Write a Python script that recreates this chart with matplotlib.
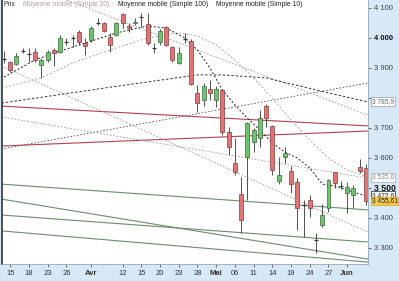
import matplotlib
matplotlib.use('Agg')
import matplotlib.pyplot as plt

# daily candles, 12 Mar -> 4 Jun (index 0 = 12 Mar)
opens = [3930, 3919, 3912, 3954, 3946, 3952, 3909, 3926, 3959, 3952,
         3987, 3997, 4019, 3982, 3992, 4048, 4049, 4002, 4009, 4079,
         4039, 4050, 4069, 4046, 3967, 3986, 4036, 3969, 3916, 3995,
         3989, 3816, 3792, 3829, 3792, 3826, 3686, 3582, 3479, 3602,
         3652, 3666, 3772, 3706, 3522, 3602, 3556, 3519, 3444, 3459,
         3327, 3376, 3432, 3552, 3507, 3482, 3476, 3569, 3566]
highs = [3956, 3922, 3949, 3966, 3966, 3966, 3932, 3959, 3966, 4009,
         3999, 4009, 4026, 3999, 4039, 4066, 4052, 4016, 4052, 4082,
         4049, 4066, 4082, 4082, 3982, 4029, 4039, 3972, 3969, 4016,
         3996, 3842, 3849, 3859, 3839, 3828, 3702, 3665, 3536, 3719,
         3699, 3759, 3779, 3709, 3602, 3636, 3572, 3532, 3459, 3476,
         3349, 3446, 3529, 3553, 3522, 3519, 3509, 3596, 3579]
lows = [3915, 3886, 3909, 3949, 3919, 3919, 3866, 3919, 3906, 3949,
        3976, 3969, 3976, 3942, 3986, 4042, 4019, 3952, 4006, 4032,
        4019, 4042, 4036, 3976, 3949, 3976, 3972, 3919, 3914, 3982,
        3842, 3752, 3772, 3792, 3769, 3676, 3609, 3542, 3349, 3459,
        3619, 3636, 3702, 3542, 3512, 3582, 3482, 3359, 3336, 3402,
        3282, 3369, 3419, 3499, 3496, 3416, 3432, 3549, 3442]
closes = [3927, 3892, 3939, 3957, 3944, 3926, 3926, 3952, 3949, 3999,
          3985, 3999, 3986, 3972, 4032, 4050, 4022, 3976, 4049, 4049,
          4032, 4054, 4070, 3982, 3964, 4022, 3976, 3926, 3949, 3997,
          3846, 3782, 3839, 3816, 3829, 3686, 3636, 3552, 3392, 3716,
          3692, 3732, 3732, 3559, 3542, 3616, 3512, 3432, 3441, 3432,
          3324, 3409, 3526, 3516, 3505, 3502, 3499, 3556, 3455.61]

tick_pos = [1, 4, 7, 10, 14, 19, 22, 25, 28, 31, 34, 37, 40, 43, 46, 49, 52, 55]
tick_labels = ['15', '18', '23', '26', 'Avr', '12', '15', '20', '23', '28',
               'Mai', '06', '11', '14', '19', '24', '27', 'Jun']
month_labels = ['Avr', 'Mai', 'Jun']

# moving averages
ma10_x = [0, 5, 8, 13, 18, 23, 26, 29, 31, 33, 35, 37, 39, 41, 43, 45, 47, 49, 51, 53, 55, 57, 58.3]
ma10_y = [3869, 3926, 3949, 3982, 4016, 4039, 4032, 3999, 3959, 3899, 3826, 3776, 3732,
          3692, 3649, 3619, 3599, 3566, 3512, 3506, 3492, 3479, 3472.6]
ma20_x = [-0.4, 6, 11, 17, 23, 28, 31, 34, 37, 40, 43, 46, 49, 52, 55, 58.3]
ma20_y = [3832, 3866, 3916, 3959, 3999, 4016, 4006, 3976, 3926, 3866, 3799, 3726,
          3659, 3599, 3559, 3535.6]
ma100_x = [-0.4, 16, 31, 35, 42, 52, 58.3]
ma100_y = [3782, 3832, 3876, 3876, 3866, 3816, 3785.9]

# trend lines: (x0, y0, x1, y1)
red_lines = [(-0.4, 3772, 58.3, 3706), (-0.4, 3639, 58.3, 3689)]
green_lines = [(-0.4, 3512, 58.3, 3426), (-0.4, 3462, 58.3, 3262),
               (-0.4, 3409, 58.3, 3319), (-0.4, 3356, 58.3, 3252)]
dark_dash_lines = [(-0.4, 3629, 58.3, 3849)]
grey_dash_lines = [(-0.4, 3736, 58.3, 3532), (-0.4, 3906, 58.3, 3352),
                   (10.1, 4125, 58.3, 3742)]

yticks = [3300, 3400, 3500, 3600, 3700, 3800, 3900, 4000, 4100]

W, H = 399, 281
fig = plt.figure(figsize=(W / 100, H / 100), dpi=100, facecolor='#d7e8f6')
ax = fig.add_axes([1.5 / W, 17 / H, 366.5 / W, 264 / H])
ax.set_facecolor('white')
ax.set_xlim(-0.4, 58.33)
ax.set_ylim(3245.7, 4125.7)

for x0, y0, x1, y1 in red_lines:
    ax.plot([x0, x1], [y0, y1], color='#b04050', lw=0.8, zorder=1)
for x0, y0, x1, y1 in green_lines:
    ax.plot([x0, x1], [y0, y1], color='#6f8a70', lw=0.8, zorder=1)
for x0, y0, x1, y1 in dark_dash_lines:
    ax.plot([x0, x1], [y0, y1], color='#555555', lw=0.6, ls=(0, (2, 2)), zorder=1)
for x0, y0, x1, y1 in grey_dash_lines:
    ax.plot([x0, x1], [y0, y1], color='#9a9a9a', lw=0.6, ls=(0, (2, 2)), zorder=1)

ax.plot(ma100_x, ma100_y, color='#333333', lw=0.7, ls=(0, (2.5, 2)), zorder=2)
ax.plot(ma20_x, ma20_y, color='#b8a4a4', lw=0.7, ls=(0, (2, 2)), zorder=2)
ax.plot(ma10_x, ma10_y, color='#222222', lw=0.7, ls=(0, (2, 2)), zorder=2)

for i, (o, h, l, c) in enumerate(zip(opens, highs, lows, closes)):
    ax.vlines(i, l, h, color='#333333', lw=0.6, zorder=3)
    if abs(c - o) < 4:
        ax.hlines((o + c) / 2, i - 0.32, i + 0.32, color='#333333', lw=0.9, zorder=4)
        continue
    up = c > o
    ax.bar(i, abs(c - o), bottom=min(o, c), width=0.64,
           color='#6cc46c' if up else '#e07474',
           edgecolor='#3d6b3d' if up else '#8a3a3a', lw=0.5, zorder=4)

ax.set_xticks(tick_pos)
ax.set_xticklabels(tick_labels, fontsize=5.5, color='#333333', family='Liberation Sans')
for t in ax.get_xticklabels():
    if t.get_text() in month_labels:
        t.set_fontweight('bold')
ax.tick_params(axis='x', length=2.5, width=0.6, pad=1.5, color='#555555')

ax.yaxis.tick_right()
ax.set_yticks(yticks)
ax.set_yticklabels([f'{v:,}'.replace(',', ' ') if v != 3800 else '' for v in yticks],
                   fontsize=5.5, color='#444444', family='Liberation Sans')
for t, v in zip(ax.get_yticklabels(), yticks):
    if v in (4000, 3500):
        t.set_fontweight('bold')
        t.set_color('#111111')
    if v == 3500:
        t.set_fontsize(6.3)
ax.tick_params(axis='y', length=2.5, width=0.6, pad=1.5, color='#555555')

ax.spines['top'].set_visible(False)
ax.spines['left'].set_color('#333333')
ax.spines['left'].set_linewidth(1.2)
ax.spines['right'].set_color('#9aa8b4')
ax.spines['bottom'].set_color('#9aa8b4')
ax.spines['right'].set_linewidth(0.6)
ax.spines['bottom'].set_linewidth(0.6)

# value boxes on the price scale
box_kw = dict(fontsize=4.8, family='Liberation Sans', ha='left', va='center',
              transform=ax.get_yaxis_transform(), clip_on=False, zorder=6)
ax.text(1.01, ma100_y[-1], '3 785,9', color='#666666',
        bbox=dict(boxstyle='square,pad=0.15', fc='white', ec='#999999', lw=0.5), **box_kw)
ax.text(1.01, ma20_y[-1], '3 535,6', color='#888888',
        bbox=dict(boxstyle='square,pad=0.15', fc='white', ec='#aaaaaa', lw=0.5), **box_kw)
ax.text(1.01, ma10_y[-1] + 2, '3 472,6', color='#222222',
        bbox=dict(boxstyle='square,pad=0.12', fc='white', ec='#222222', lw=0.5), **box_kw)
ax.text(1.01, closes[-1], '3 455,61', color='#222222',
        bbox=dict(boxstyle='square,pad=0.12', fc='#f7c948', ec='#d9a520', lw=0.5), **box_kw)

# legend line at the top
leg_kw = dict(fontsize=4.9, family='Liberation Sans', va='center', ha='left')
fig.text(4 / W, 1 - 5 / H, 'Prix', color='#333333', **leg_kw)
fig.text(23 / W, 1 - 5 / H, 'Moyenne mobile (Simple 20)', color='#b89c9c', **leg_kw)
fig.text(118 / W, 1 - 5 / H, 'Moyenne mobile (Simple 100)', color='#222222', **leg_kw)
fig.text(216 / W, 1 - 5 / H, 'Moyenne mobile (Simple 10)', color='#222222', **leg_kw)

fig.savefig('out.png', dpi=100, facecolor=fig.get_facecolor())
